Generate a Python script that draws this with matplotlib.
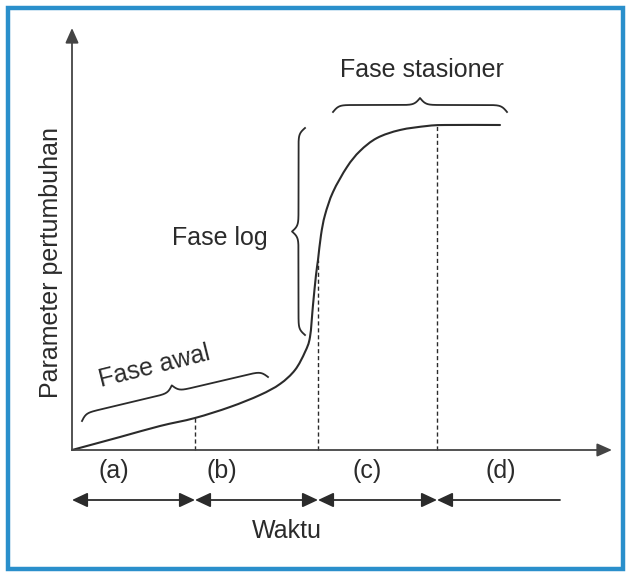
import numpy as np
import matplotlib
matplotlib.use("Agg")
import matplotlib.pyplot as plt
from matplotlib.patches import Rectangle, PathPatch
from matplotlib.path import Path

# ---- data (time units vs growth parameter) ----
time_pts = [0, 48, 88, 123, 158, 188, 208, 223, 233, 238, 241, 244, 246, 249,
            253, 261, 275, 288, 305, 328, 355, 373, 428]
param_pts = [0, 13, 24, 32, 43, 55, 66, 80, 98, 113, 145, 175, 190, 215,
             235, 258, 283, 299, 312, 320, 324, 325, 325]
phase_bounds = [0, 123, 246, 365, 488]
phase_labels = ["(a)", "(b)", "(c)", "(d)"]
phase_label_x = [42, 150, 295, 429]
phase_names = ["Fase awal", "Fase log", "Fase stasioner"]
x_label = "Waktu"
y_label = "Parameter pertumbuhan"

W, H = 629, 575
fig = plt.figure(figsize=(W / 100, H / 100), dpi=100)
fig.patch.set_facecolor("white")
ax = fig.add_axes([0, 0, 1, 1])
ax.set_xlim(-72, W - 72)
ax.set_ylim(450 - H, 450)
ax.axis("off")

ink = "#2b2b2b"
font = dict(family=["Liberation Sans", "DejaVu Sans"], fontsize=18, color=ink)

# frame
fig.patches.append(Rectangle((7.5 / W, 6 / H), (623 - 7.5) / W, (575 - 7.5 - 6) / H,
                             transform=fig.transFigure, fill=False,
                             edgecolor="#2a8fcb", lw=3.2, zorder=0))

# axes arrows
arrow_ax = dict(arrowstyle="-|>,head_length=0.45,head_width=0.2", mutation_scale=20,
                shrinkA=0, shrinkB=0, lw=1.3, color="#444444")
ax.annotate("", xy=(0, 422), xytext=(0, 0), arrowprops=arrow_ax)
ax.annotate("", xy=(540, 0), xytext=(0, 0), arrowprops=arrow_ax)

# growth curve drawn as a smooth Bezier path through the data points
P = np.column_stack([time_pts, param_pts]).astype(float)
verts = [tuple(P[0])]
codes = [Path.MOVETO]
for i in range(len(P) - 1):
    p0 = P[i - 1] if i > 0 else P[i]
    p1, p2 = P[i], P[i + 1]
    p3 = P[i + 2] if i + 2 < len(P) else P[i + 1]
    c1 = p1 + (p2 - p0) / 6.0
    c2 = p2 - (p3 - p1) / 6.0
    verts += [tuple(c1), tuple(c2), tuple(p2)]
    codes += [Path.CURVE4] * 3
ax.add_patch(PathPatch(Path(verts, codes), fill=False, edgecolor=ink, lw=1.5,
                       capstyle="round", joinstyle="round"))

# dashed phase boundaries
for xb in phase_bounds[1:4]:
    yb = np.interp(xb, time_pts, param_pts)
    ax.plot([xb, xb], [0, yb], color=ink, lw=1.0, ls=(0, (3, 2)))

# phase labels
for lab, xl in zip(phase_labels, phase_label_x):
    ax.text(xl, -28, lab, ha="center", va="baseline", **font)

# time arrows
arr2 = dict(arrowstyle="<|-|>,head_length=0.47,head_width=0.22", mutation_scale=20,
            shrinkA=0, shrinkB=0, lw=1.3, color=ink)
arr1 = dict(arrowstyle="-|>,head_length=0.47,head_width=0.22", mutation_scale=20,
            shrinkA=0, shrinkB=0, lw=1.3, color=ink)
for i in range(3):
    ax.annotate("", xy=(phase_bounds[i], -50), xytext=(phase_bounds[i + 1], -50),
                arrowprops=arr2)
ax.annotate("", xy=(phase_bounds[3], -50), xytext=(phase_bounds[4], -50),
            arrowprops=arr1)

ax.text(215, -88, x_label, ha="center", va="baseline", **font)
ax.text(-21, 188, y_label, ha="center", va="center", rotation=90, **font)


def brace(p0, p1, w, beta=0.35):
    p0 = np.array(p0, float)
    p1 = np.array(p1, float)
    L = np.hypot(*(p1 - p0))
    d = (p1 - p0) / L
    n = np.array([-d[1], d[0]])
    u = np.linspace(0, L, 801)
    half = u[:401]
    yh = 1 / (1 + np.exp(-beta * (half - half[0]))) + 1 / (1 + np.exp(-beta * (half - half[-1])))
    v = np.concatenate((yh, yh[-2::-1])) - 0.5
    v = v * w
    pts = p0[None, :] + u[:, None] * d[None, :] + v[:, None] * n[None, :]
    ax.plot(pts[:, 0], pts[:, 1], color=ink, lw=1.3)


# braces
brace((10, 29), (196, 73), 14)
brace((233, 115), (233, 322), 13)
brace((261, 338), (435, 338), 14)

ax.text(82, 84, phase_names[0], ha="center", va="center", rotation=14,
        rotation_mode="anchor", **font)
ax.text(196, 205, phase_names[1], ha="right", va="baseline", **font)
ax.text(349.5, 373, phase_names[2], ha="center", va="baseline", **font)

fig.savefig("out.png", dpi=100, facecolor="white")
